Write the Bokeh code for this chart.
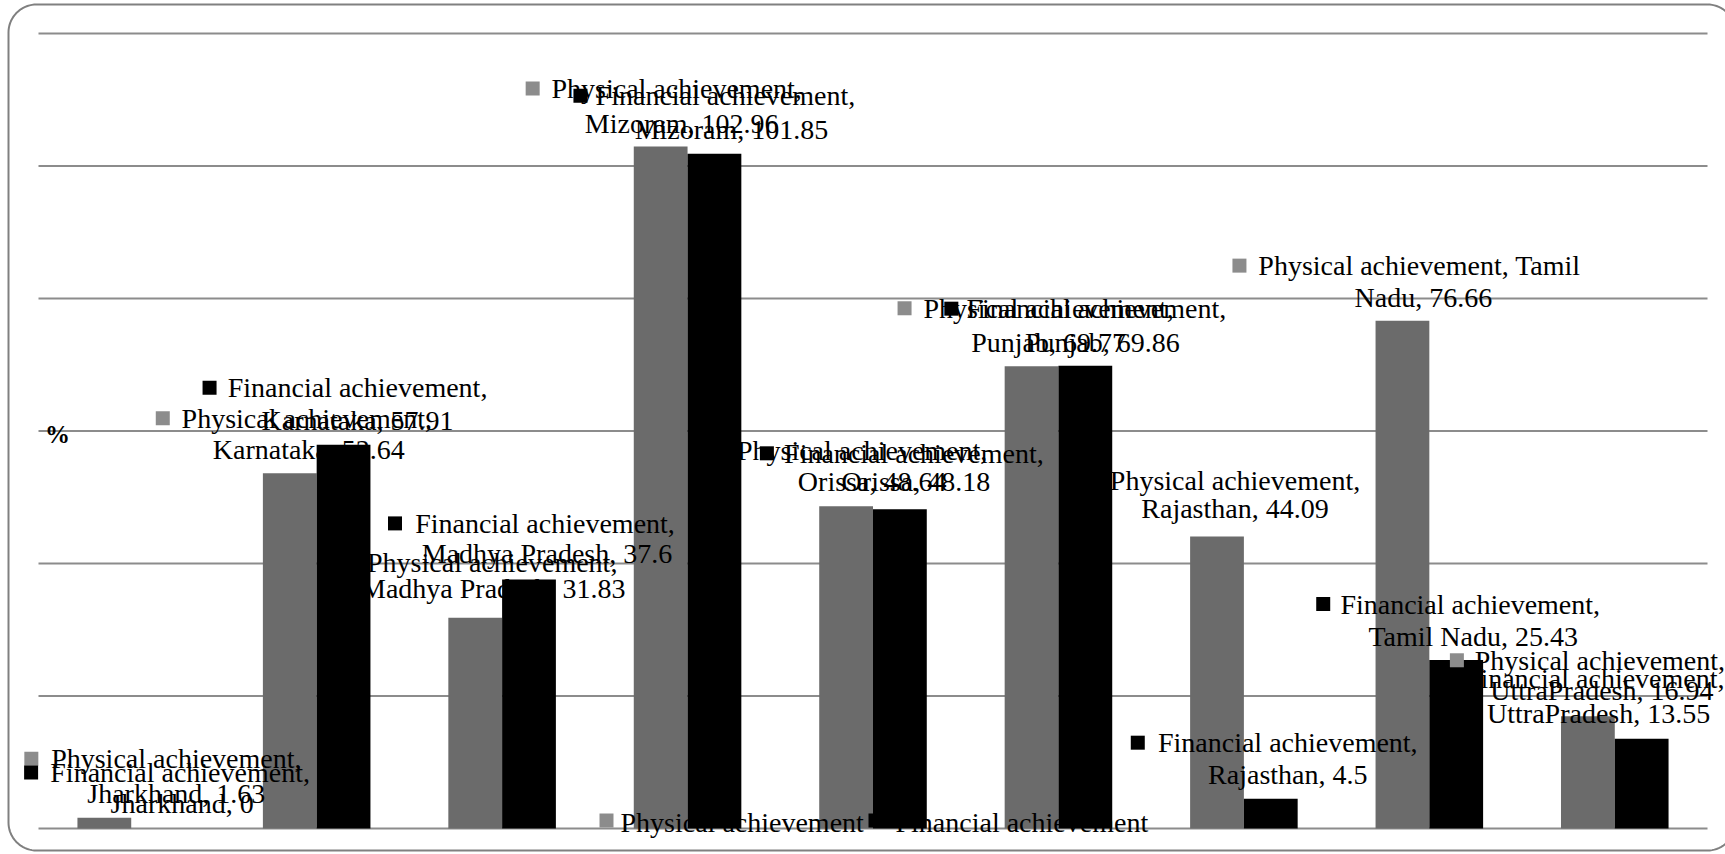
import numpy as np
from bokeh.plotting import figure
from bokeh.models import Range1d, ColumnDataSource
from bokeh.core.properties import value
from bokeh.embed import file_html
from bokeh.resources import INLINE

# ---------------- data ----------------
states = ["Jharkhand", "Karnataka", "Madhya Pradesh", "Mizoram", "Orissa",
          "Punjab", "Rajasthan", "Tamil Nadu", "UttraPradesh"]
physical = [1.63, 53.64, 31.83, 102.96, 48.64, 69.77, 44.09, 76.66, 16.94]
financial = [0, 57.91, 37.6, 101.85, 48.18, 69.86, 4.5, 25.43, 13.55]
series_names = ["Physical achievement", "Financial achievement"]
y_ticks = [0, 20, 40, 60, 80, 100, 120]
axis_label = "%"

# ---------------- layout / style ----------------
W, H = 1725, 854
PLOT_L, PLOT_R, PLOT_T, PLOT_B = 38, 1707, 33, 828   # canvas px of the chart area
N = len(states)
YMAX = 120
PXX = (PLOT_R - PLOT_L) / N
PXY = (PLOT_B - PLOT_T) / YMAX
BAR_W = 0.29
PHYS_BAR = "#6b6b6b"
FIN_BAR = "#000000"
PHYS_KEY = "#8c8c8c"
GRID_COLOR = "#8c8c8c"
FONT = "Liberation Serif"
FSIZE = "28px"

# label placement: (dx1, dy1, dx2, dy2, key_dx or None, words on line 1), px relative to bar top-centre
phys_layout = [(72, -59, 72, -24, -73, 2), (17, -55, 19, -24, -127, 2), (17, -55, 18, -29, None, 2),
               (16, -58, 21, -23, -128, 2), (16, -56, 26, -25, None, 2), (17, -58, 17, -24, -127, 2),
               (18, -56, 18, -28, None, 2), (17, -55, 21, -23, -163, 3), (12, -56, 14, -26, -131, 2)]
fin_layout = [(22, -56, 24, -25, -127, 2), (14, -57, 14, -24, -134, 2), (16, -56, 18, -26, -134, 2),
              (11, -58, 17, -24, -134, 2), (14, -56, 16, -28, -133, 2), (11, -57, 17, -23, -134, 2),
              (17, -56, 17, -24, -133, 2), (14, -56, 17, -24, -133, 2), (-47, -60, -43, -25, -195, 2)]

x_start = -PLOT_L / PXX
x_end = (W - PLOT_L) / PXX
y_start = -(H - PLOT_B) / PXY
y_end = YMAX + PLOT_T / PXY

p = figure(width=W, height=H, output_backend="svg", toolbar_location=None,
           x_range=Range1d(x_start, x_end), y_range=Range1d(y_start, y_end),
           x_axis_location=None, y_axis_location=None, min_border=0)
p.outline_line_color = None
p.background_fill_color = "white"
p.border_fill_color = "white"
p.xgrid.visible = False
p.ygrid.visible = False


def cx(px):   # canvas px -> data x
    return x_start + px / PXX


def cy(py):   # canvas px -> data y
    return y_end - py / PXY


# gridlines
p.segment(x0=[0] * len(y_ticks), x1=[N] * len(y_ticks), y0=y_ticks, y1=y_ticks,
          line_color=GRID_COLOR, line_width=2)

centers = np.arange(N) + 0.5
series = [(physical, -BAR_W / 2, PHYS_BAR, PHYS_KEY, phys_layout, series_names[0]),
          (financial, BAR_W / 2, FIN_BAR, FIN_BAR, fin_layout, series_names[1])]

for vals, off, bcol, kcol, layout, name in series:
    xs = centers + off
    p.vbar(x=xs, top=vals, width=BAR_W, bottom=0, fill_color=bcol, line_color=None)

for vals, off, bcol, kcol, layout, name in series:
    xs = centers + off
    l1, l2, d = [], [], {"x": [], "y": [], "dx1": [], "dy1": [], "dx2": [], "dy2": []}
    kx, ky = [], []
    for i, (st, v) in enumerate(zip(states, vals)):
        dx1, dy1, dx2, dy2, kdx, nw = layout[i]
        words = f"{name}, {st}, {v:g}".split(" ")
        l1.append(" ".join(words[:nw]))
        l2.append(" ".join(words[nw:]))
        d["x"].append(xs[i]); d["y"].append(v)
        d["dx1"].append(dx1); d["dy1"].append(dy1)
        d["dx2"].append(dx2); d["dy2"].append(dy2)
        if kdx is not None:
            kx.append(xs[i] + kdx / PXX)
            ky.append(v - dy1 / PXY)
    d["l1"] = l1
    d["l2"] = l2
    src = ColumnDataSource(d)
    p.text(x="x", y="y", text="l1", x_offset="dx1", y_offset="dy1", source=src,
           text_font=value(FONT), text_font_size=FSIZE, text_color="black",
           text_align="center", text_baseline="middle")
    p.text(x="x", y="y", text="l2", x_offset="dx2", y_offset="dy2", source=src,
           text_font=value(FONT), text_font_size=FSIZE, text_color="black",
           text_align="center", text_baseline="middle")
    p.scatter(x=kx, y=ky, marker="square", size=14, fill_color=kcol, line_color=None)

# legend at bottom
leg_key_px = [606, 875]
leg_txt_px = [620, 895]
leg_y_px = 820
p.scatter(x=[cx(v) for v in leg_key_px], y=[cy(leg_y_px)] * 2, marker="square", size=14,
          fill_color=[PHYS_KEY, FIN_BAR], line_color=None)
p.text(x=[cx(v) for v in leg_txt_px], y=[cy(leg_y_px + 2)] * 2, text=series_names,
       text_font=value(FONT), text_font_size=FSIZE, text_color="black",
       text_align="left", text_baseline="middle")

# axis label
p.text(x=[cx(57)], y=[cy(434)], text=[axis_label], text_font=value(FONT),
       text_font_size="25px", text_font_style="bold", text_align="center", text_baseline="middle")

# rounded border
def rounded_rect(x0, y0, x1, y1, r, n=20):
    pts = []
    corners = [(x1 - r, y0 + r, -90, 0), (x1 - r, y1 - r, 0, 90), (x0 + r, y1 - r, 90, 180), (x0 + r, y0 + r, 180, 270)]
    for ccx, ccy, a0, a1 in corners:
        t = np.radians(np.linspace(a0, a1, n))
        pts += list(zip(ccx + r * np.cos(t), ccy + r * np.sin(t)))
    pts.append(pts[0])
    return [cx(a) for a, b in pts], [cy(b) for a, b in pts]

bx, by = rounded_rect(8, 4, 1735, 850, 28)
p.line(bx, by, line_color="#808080", line_width=2)

open("out.html", "w").write(file_html(p, INLINE))
